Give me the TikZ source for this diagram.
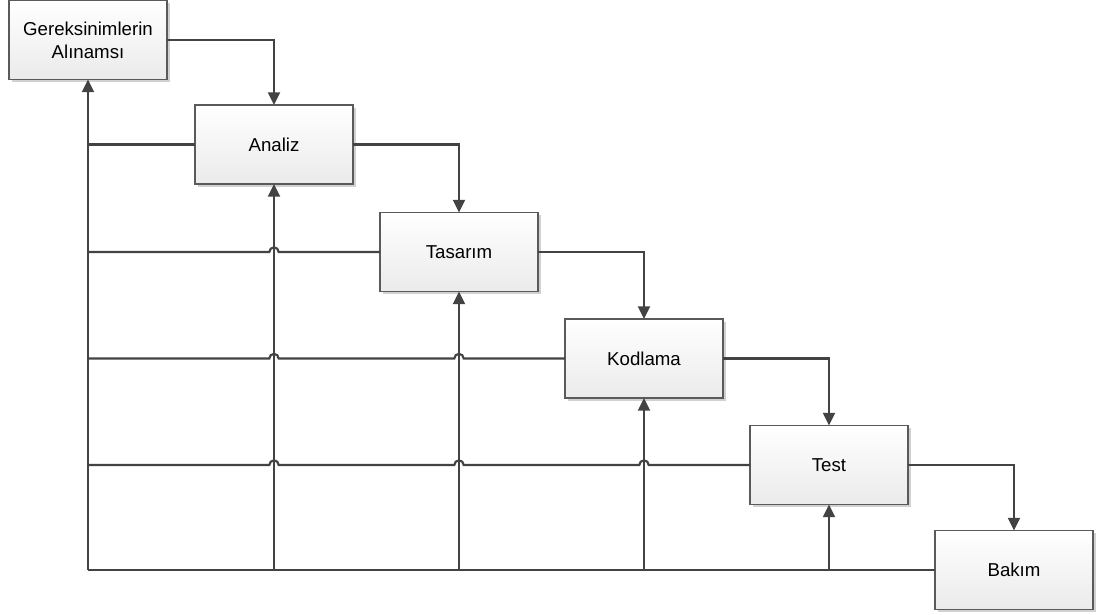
\documentclass[tikz,border=0pt]{standalone}
\usepackage{fontspec}
\setmainfont{Liberation Sans}
\usetikzlibrary{arrows.meta,shadows,shadings}
\definecolor{linec}{HTML}{434343}
\definecolor{boxline}{HTML}{5A5A5A}
\tikzset{
  phase/.style={draw=boxline, line width=0.8pt, top color=white, bottom color=black!8,
    minimum width=118.5pt, minimum height=59.25pt, inner sep=0pt, outer sep=0pt,
    align=center, font=\fontsize{14}{17.25}\selectfont,
    general shadow={fill=black!18, shadow xshift=2pt, shadow yshift=-2pt}},
  flow/.style={draw=linec, line width=1.6pt, -{Triangle[length=9.5pt,width=9pt]}},
  back/.style={draw=linec, line width=1.6pt},
}
\newcommand{\hop}[1]{-- ([xshift=3.5pt]#1) arc[start angle=0,end angle=180,radius=3.5pt]}
\begin{document}
\begin{tikzpicture}[x=0.75pt,y=-0.75pt]
\useasboundingbox (0,0) rectangle (1099,614);

% phases of the waterfall
\node[phase] (ger) at (88,40)    {Gereksinimlerin\\Alınamsı};
\node[phase] (ana) at (274,144.5){Analiz};
\node[phase] (tas) at (459,252)  {Tasarım};
\node[phase] (kod) at (644,358.5){Kodlama};
\node[phase] (tst) at (829,465)  {Test};
\node[phase] (bak) at (1014,570) {Bakım};

% forward flow between phases
\draw[flow] (ger.east) -| (ana.north);
\draw[flow] (ana.east) -| (tas.north);
\draw[flow] (tas.east) -| (kod.north);
\draw[flow] (kod.east) -| (tst.north);
\draw[flow] (tst.east) -| (bak.north);

% feedback bus along the bottom
\draw[back] (bak.west) -- (ger.south |- bak.west);
\draw[flow] (ger.south |- bak.west) -- (ger.south);
\draw[flow] (ana.south |- bak.west) -- (ana.south);
\draw[flow] (tas.south |- bak.west) -- (tas.south);
\draw[flow] (kod.south |- bak.west) -- (kod.south);
\draw[flow] (tst.south |- bak.west) -- (tst.south);

% feedback from each phase back to the trunk, hopping over crossings
\draw[back] (ana.west) -- (ger.south |- ana.west);
\draw[back] (tas.west) \hop{ana.south |- tas.west} -- (ger.south |- tas.west);
\draw[back] (kod.west) \hop{tas.south |- kod.west} \hop{ana.south |- kod.west} -- (ger.south |- kod.west);
\draw[back] (tst.west) \hop{kod.south |- tst.west} \hop{tas.south |- tst.west} \hop{ana.south |- tst.west} -- (ger.south |- tst.west);
\end{tikzpicture}
\end{document}
